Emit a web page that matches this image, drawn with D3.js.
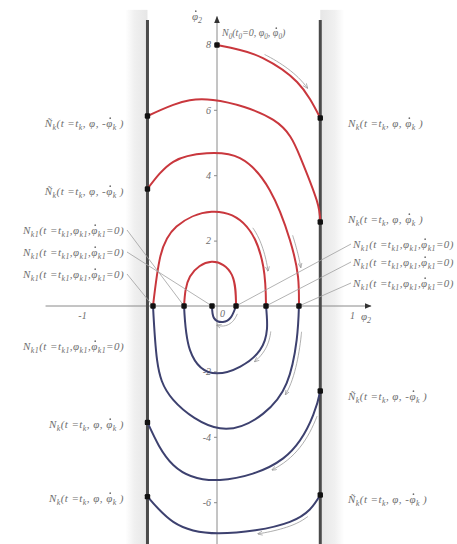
<!DOCTYPE html>
<html>
<head>
<meta charset="utf-8">
<script src="https://cdn.jsdelivr.net/npm/d3@7"></script>
<style>
  html, body { margin: 0; padding: 0; background: #fff; }
  svg { display: block; }
</style>
</head>
<body>
<svg id="chart" width="457" height="544"></svg>
<script>
// ---- phase-plane trajectory between two walls: [φ2, φ̇2] samples ----
// upper half (φ̇2 > 0), traversed left to right
const upperArc1 = [[0, 7.98], [0.17, 7.83], [0.34, 7.58], [0.593, 6.85], [0.765, 5.75]];
const upperArc2 = [[-0.515, 5.81], [-0.324, 6.15], [-0.03, 6.30], [0.417, 5.69], [0.615, 4.57], [0.738, 3.24], [0.765, 2.57]];
const upperArc3 = [[-0.515, 3.58], [-0.324, 4.41], [-0.076, 4.67], [0.17, 4.52], [0.39, 3.55], [0.54, 2.02], [0.60, 0.9], [0.607, 0]];
const upperArc4 = [[-0.474, 0], [-0.42, 1.51], [-0.30, 2.43], [-0.04, 2.88], [0.22, 2.43], [0.343, 1.2], [0.363, 0]];
const upperArc5 = [[-0.244, 0], [-0.20, 0.9], [-0.04, 1.35], [0.11, 0.95], [0.141, 0]];
// lower half (φ̇2 < 0), traversed right to left
const lowerArc1 = [[0.607, 0], [0.59, -1.04], [0.516, -2.36], [0.34, -3.3], [0.022, -3.74], [-0.324, -2.87], [-0.444, -1.65], [-0.474, 0]];
const lowerArc2 = [[0.363, 0], [0.318, -1.35], [0.0, -2.06], [-0.2, -1.35], [-0.244, 0]];
const lowerArc3 = [[0.141, 0], [0.104, -0.34], [0.044, -0.49], [-0.022, -0.37], [-0.037, 0]];
const lowerArc4 = [[0.765, -2.6], [0.713, -3.33], [0.49, -4.66], [0.022, -5.32], [-0.324, -4.86], [-0.515, -3.56]];
const lowerArc5 = [[0.765, -5.78], [0.54, -6.6], [0.01, -6.95], [-0.324, -6.6], [-0.515, -5.83]];

const wallPositions = [-0.515, 0.765];
const yTickValues = [-6, -4, -2, 2, 4, 6, 8];
const xTickValues = [-1, 1];
const xAxisExtent = [-1.27, 1.14];
const yAxisExtent = [-7.4, 8.85];

// direction guides: [arc, start fraction, end fraction]
const directionGuides = [
  [upperArc1, 0.36, 0.76],
  [upperArc3, 0.74, 0.86],
  [upperArc4, 0.68, 0.86],
  [lowerArc1, 0.08, 0.28],
  [lowerArc2, 0.14, 0.32],
  [lowerArc3, 0.15, 0.6],
  [lowerArc4, 0.10, 0.38],
  [lowerArc5, 0.12, 0.38]
];

// annotation texts (_{..} marks a subscript, ~ marks a dotted φ)
const labelStart = "N_{0}(t_{0}=0, φ_{0}, ~_{0})";
const labelWallRight = "N_{k}(t =t_{k}, φ, ~_{k} )";
const labelWallLeft = "Ñ_{k}(t =t_{k}, φ, -~_{k} )";
const labelTurn = "N_{k1}(t =t_{k1},φ_{k1},~_{k1}=0)";

const W = 457, H = 544;
const svg = d3.select("#chart");
const x = d3.scaleLinear().domain([-1, 1]).range([82, 352]);
const y = d3.scaleLinear().domain([0, 8]).range([306, 44.4]);

const RED = "#c9373d", BLUE = "#3d416f", GREY = "#8a8a8a", TEXT = "#6e6e6e";
const FONT = "'Liberation Serif', 'DejaVu Serif', serif";

const defs = svg.append("defs");
function band(id, dir) {
  const g = defs.append("linearGradient").attr("id", id)
    .attr("x1", dir > 0 ? "0" : "1").attr("x2", dir > 0 ? "1" : "0").attr("y1", 0).attr("y2", 0);
  g.append("stop").attr("offset", "0").attr("stop-color", "#ffffff");
  g.append("stop").attr("offset", "0.4").attr("stop-color", "#f0f0f0");
  g.append("stop").attr("offset", "1").attr("stop-color", "#e6e6e6");
}
band("bandL", 1);
band("bandR", -1);
defs.append("marker").attr("id", "axisHead").attr("viewBox", "0 0 10 10")
  .attr("refX", 9).attr("refY", 5).attr("markerWidth", 7).attr("markerHeight", 7)
  .attr("markerUnits", "userSpaceOnUse").attr("orient", "auto")
  .append("path").attr("d", "M0,1 L10,5 L0,9 Z").attr("fill", "#333");
defs.append("marker").attr("id", "guideHead").attr("viewBox", "0 0 10 10")
  .attr("refX", 9).attr("refY", 5).attr("markerWidth", 5).attr("markerHeight", 5)
  .attr("markerUnits", "userSpaceOnUse").attr("orient", "auto")
  .append("path").attr("d", "M0,1 L10,5 L0,9").attr("fill", "none").attr("stroke", "#888").attr("stroke-width", 1.2);

// shaded zones outside the walls
const wallTop = y(8.75);
svg.append("rect").attr("x", x(wallPositions[0]) - 22).attr("y", wallTop - 10)
  .attr("width", 22).attr("height", H).attr("fill", "url(#bandL)");
svg.append("rect").attr("x", x(wallPositions[1])).attr("y", wallTop - 10)
  .attr("width", 24).attr("height", H).attr("fill", "url(#bandR)");

// axes
svg.append("line").attr("x1", x(xAxisExtent[0])).attr("x2", x(xAxisExtent[1]))
  .attr("y1", y(0)).attr("y2", y(0)).attr("stroke", GREY).attr("stroke-width", 1)
  .attr("marker-end", "url(#axisHead)");
svg.append("line").attr("x1", x(0)).attr("x2", x(0))
  .attr("y1", y(yAxisExtent[0])).attr("y2", y(yAxisExtent[1])).attr("stroke", GREY).attr("stroke-width", 1)
  .attr("marker-end", "url(#axisHead)");

const yAxis = svg.append("g").attr("transform", `translate(${x(0)},0)`)
  .call(d3.axisLeft(y).tickValues(yTickValues).tickSize(3).tickPadding(3).tickFormat(d => d));
const xAxis = svg.append("g").attr("transform", `translate(0,${y(0)})`)
  .call(d3.axisBottom(x).tickValues(xTickValues).tickSize(0).tickPadding(6).tickFormat(d => d));
[yAxis, xAxis].forEach(a => {
  a.select(".domain").remove();
  a.selectAll("line").attr("stroke", GREY);
  a.selectAll("text").attr("fill", TEXT).attr("font-family", FONT)
    .attr("font-style", "italic").attr("font-size", 10);
});
svg.append("text").attr("x", x(0) + 3).attr("y", y(0) + 11).attr("fill", TEXT)
  .attr("font-family", FONT).attr("font-style", "italic").attr("font-size", 10).text("0");

// walls
svg.selectAll(".wall").data(wallPositions).join("line").attr("class", "wall")
  .attr("x1", d => x(d)).attr("x2", d => x(d)).attr("y1", wallTop).attr("y2", H)
  .attr("stroke", "#4a4a4a").attr("stroke-width", 3);

// trajectory arcs
const line = d3.line().x(d => x(d[0])).y(d => y(d[1])).curve(d3.curveNatural);
const arcs = [
  { pts: upperArc1, color: RED }, { pts: upperArc2, color: RED }, { pts: upperArc3, color: RED },
  { pts: upperArc4, color: RED }, { pts: upperArc5, color: RED },
  { pts: lowerArc1, color: BLUE }, { pts: lowerArc2, color: BLUE }, { pts: lowerArc3, color: BLUE },
  { pts: lowerArc4, color: BLUE }, { pts: lowerArc5, color: BLUE }
];
const arcPaths = new Map();
arcs.forEach(a => {
  const p = svg.append("path").attr("d", line(a.pts)).attr("fill", "none")
    .attr("stroke", a.color).attr("stroke-width", 2);
  arcPaths.set(a.pts, p.node());
});

// thin direction guides running alongside the arcs
directionGuides.forEach(([pts, t0, t1]) => {
  const node = arcPaths.get(pts);
  const L = node.getTotalLength();
  const n = 16, off = 4;
  const out = [];
  for (let i = 0; i <= n; i++) {
    const s = (t0 + (t1 - t0) * i / n) * L;
    const p = node.getPointAtLength(s);
    const q = node.getPointAtLength(Math.min(L, s + 0.5));
    const r = node.getPointAtLength(Math.max(0, s - 0.5));
    let dx = q.x - r.x, dy = q.y - r.y;
    const m = Math.hypot(dx, dy) || 1;
    dx /= m; dy /= m;
    out.push([p.x + dy * off, p.y - dx * off]);
  }
  svg.append("path").attr("d", d3.line().curve(d3.curveCatmullRom)(out))
    .attr("fill", "none").attr("stroke", "#999").attr("stroke-width", 0.8)
    .attr("marker-end", "url(#guideHead)");
});

// state points: ends of every arc
const dotKeys = new Set();
const dots = [];
arcs.forEach(a => [a.pts[0], a.pts[a.pts.length - 1]].forEach(p => {
  const k = p.join(",");
  if (!dotKeys.has(k)) { dotKeys.add(k); dots.push(p); }
}));

// labels: italic serif with subscripts; a dotted φ gets a small dot drawn above it
function mathText(g, str, attrs, size = 11, spacing = 0.45) {
  const t = g.append("text").attr("fill", TEXT).attr("font-family", FONT)
    .attr("font-style", "italic").attr("font-size", size).attr("letter-spacing", spacing);
  Object.entries(attrs).forEach(([k, v]) => t.attr(k, v));
  let low = false, idx = 0;
  const dotted = [];
  str.split(/(_\{[^}]*\}|~)/).forEach(part => {
    if (!part) return;
    if (part.startsWith("_{")) {
      const s = part.slice(2, -1);
      t.append("tspan").attr("dy", low ? 0 : 3).attr("font-size", size * 0.72).text(s);
      idx += s.length;
      low = true;
    } else {
      const s = part === "~" ? "φ" : part;
      if (part === "~") dotted.push(idx);
      t.append("tspan").attr("dy", low ? -3 : 0).text(s);
      idx += s.length;
      low = false;
    }
  });
  const node = t.node();
  dotted.forEach(i => {
    const e = node.getExtentOfChar(i);
    g.append("circle").attr("cx", e.x + e.width * 0.62).attr("cy", e.y + 1.2)
      .attr("r", 0.85).attr("fill", TEXT);
  });
  return t;
}

const labels = svg.append("g");
// leader lines from the turning-point labels to the points on the φ2 axis
const leftLeaders = [[230, -0.244], [252, -0.037], [274, -0.474]];
const rightLeaders = [[244, 0.141], [262, 0.363], [283, 0.607]];
leftLeaders.forEach(([ly, px]) => labels.append("line").attr("x1", 127).attr("y1", ly)
  .attr("x2", x(px)).attr("y2", y(0)).attr("stroke", "#a0a0a0").attr("stroke-width", 0.8));
rightLeaders.forEach(([ly, px]) => labels.append("line").attr("x1", 351).attr("y1", ly)
  .attr("x2", x(px)).attr("y2", y(0)).attr("stroke", "#a0a0a0").attr("stroke-width", 0.8));

// dots on top of the leaders
svg.selectAll(".dot").data(dots).join("rect").attr("class", "dot")
  .attr("x", d => x(d[0]) - 2.7).attr("y", d => y(d[1]) - 2.7)
  .attr("width", 5.4).attr("height", 5.4).attr("rx", 1.2).attr("fill", "#111");

mathText(labels, labelStart, { x: 222, y: 36 }, 10, 0);
[127, 195].forEach(by => mathText(labels, labelWallLeft, { x: 124, y: by, "text-anchor": "end" }));
[234, 256, 278, 350].forEach(by => mathText(labels, labelTurn, { x: 124, y: by, "text-anchor": "end" }));
[428, 502].forEach(by => mathText(labels, labelWallRight, { x: 124, y: by, "text-anchor": "end" }));
[127, 223].forEach(by => mathText(labels, labelWallRight, { x: 348, y: by }));
[248, 266, 287].forEach(by => mathText(labels, labelTurn, { x: 353, y: by }));
[400, 503].forEach(by => mathText(labels, labelWallLeft, { x: 348, y: by }));

// axis names
mathText(labels, "~_{2}", { x: 192, y: 20 }, 11, 0);
mathText(labels, "φ_{2}", { x: 361, y: 320 }, 11, 0);
</script>
</body>
</html>
